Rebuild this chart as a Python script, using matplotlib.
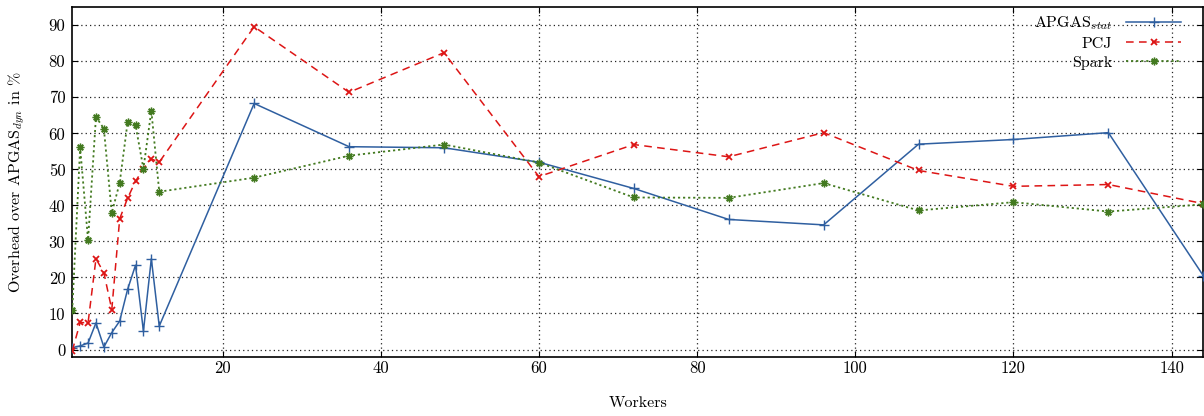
import matplotlib
matplotlib.use("Agg")
import matplotlib.pyplot as plt

plt.rcParams['font.family'] = ['cmr10', 'DejaVu Serif']
plt.rcParams['mathtext.fontset'] = 'cm'
plt.rcParams['axes.unicode_minus'] = False
plt.rcParams['axes.formatter.use_mathtext'] = False

workers = [1, 2, 3, 4, 5, 6, 7, 8, 9, 10, 11, 12, 24, 36, 48, 60, 72, 84, 96, 108, 120, 132, 144]

apgas_stat = [0.5, 1.0, 1.8, 7.4, 0.7, 4.7, 7.9, 16.7, 23.4, 5.1, 25.2, 6.5,
              68.3, 56.3, 56.0, 52.0, 44.7, 36.1, 34.6, 57.0, 58.3, 60.2, 20.5]
pcj = [-0.4, 7.5, 7.4, 25.2, 21.3, 11.1, 36.3, 42.0, 46.7, 50.2, 52.9, 52.0,
       89.6, 71.4, 82.4, 48.0, 56.9, 53.5, 60.2, 49.7, 45.3, 45.8, 40.5]
spark = [10.9, 56.1, 30.4, 64.6, 61.3, 37.9, 46.3, 63.1, 62.3, 50.2, 66.3, 43.8,
         47.7, 53.8, 56.9, 51.9, 42.2, 42.1, 46.2, 38.6, 40.9, 38.3, 40.3]

labels = [r'APGAS$_{stat}$', 'PCJ', 'Spark']
xticks = [20, 40, 60, 80, 100, 120, 140]
yticks = [0, 10, 20, 30, 40, 50, 60, 70, 80, 90]

fig = plt.figure(figsize=(12.04, 4.16), dpi=100)
ax = fig.add_axes([0.0600, 0.1425, 0.9394, 0.8400])

ax.plot(workers, apgas_stat, color='#2f5fa0', lw=1.1, ls='-', marker='+',
        ms=7, mew=1.0, label=labels[0], zorder=3)
ax.plot(workers, pcj, color='#dd1515', lw=1.1, ls=(0, (5, 3.5)), marker='x',
        ms=5, mew=1.3, label=labels[1], zorder=3)
ax.plot(workers, spark, color='#437a20', lw=1.3, ls=(0, (1.2, 1.6)), marker=(8, 2, 0),
        ms=5.5, mew=1.0, label=labels[2], zorder=3)

ax.set_xlim(1, 144)
ax.set_ylim(-2, 95)
ax.set_xticks(xticks)
ax.set_yticks(yticks)
ax.set_xticklabels([str(v) for v in xticks])
ax.set_yticklabels([str(v) for v in yticks])
ax.grid(True, color='#222222', ls=(0, (1, 2.5)), lw=0.9)
ax.tick_params(direction='in', top=True, right=True, length=4, width=0.8,
               labelsize=12, colors='black')
ax.tick_params(axis='x', pad=2.5)
ax.tick_params(axis='y', pad=5)
for s in ax.spines.values():
    s.set_linewidth(1.2)

ax.set_xlabel('Workers', fontsize=11.5)
ax.xaxis.set_label_coords(0.5, -0.112)
ax.set_ylabel(r'Overhead over APGAS$_{dyn}$ in %', fontsize=11.5)
ax.yaxis.set_label_coords(-0.040, 0.5)

leg = ax.legend(loc='upper right', markerfirst=False, frameon=False,
                fontsize=11.5, handlelength=3.4, handletextpad=0.9,
                labelspacing=0.3, numpoints=1, borderaxespad=0.3,
                bbox_to_anchor=(0.99, 1.012))

fig.savefig('out.png', dpi=100)
